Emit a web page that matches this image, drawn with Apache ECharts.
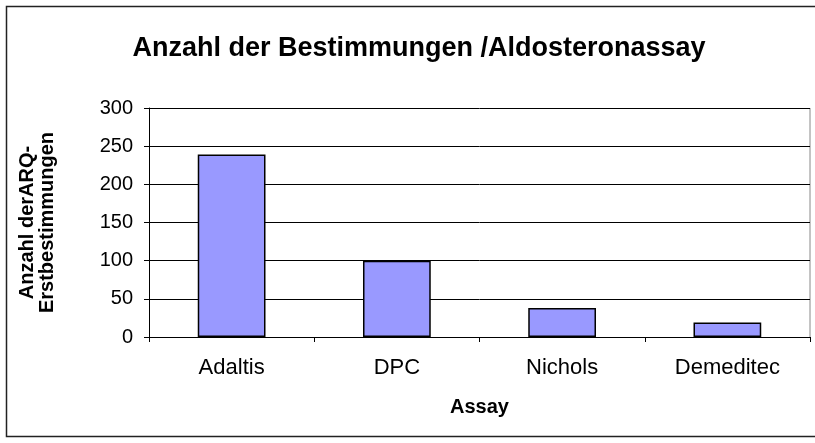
<!DOCTYPE html>
<html>
<head>
<meta charset="utf-8">
<script src="https://cdn.jsdelivr.net/npm/echarts@6/dist/echarts.min.js"></script>
<style>
  html, body { margin: 0; padding: 0; background: #fff; }
  #main { width: 815px; height: 443px; }
</style>
</head>
<body>
<div id="main"></div>
<script>
// data
const categories = ['Adaltis', 'DPC', 'Nichols', 'Demeditec'];
const counts = [239, 100, 38, 19];
const yTicks = [0, 50, 100, 150, 200, 250, 300];

const chart = echarts.init(document.getElementById('main'));

const option = {
  animation: false,
  textStyle: { fontFamily: 'Liberation Sans, Arial, sans-serif' },
  graphic: [
    {
      type: 'rect',
      shape: { x: 6.5, y: 6.5, width: 840, height: 430 },
      style: { fill: 'none', stroke: '#222', lineWidth: 1.5 }
    },
    {
      type: 'line',
      shape: { x1: 810, y1: 108, x2: 810, y2: 337 },
      style: { stroke: '#888', lineWidth: 1 }
    }
  ],
  title: {
    text: 'Anzahl der Bestimmungen /Aldosteronassay',
    left: 414,
    top: 30,
    textAlign: 'center',
    textStyle: { fontSize: 27, fontWeight: 'bold', color: '#000' }
  },
  grid: { left: 149, right: 5, top: 108, bottom: 106 },
  xAxis: {
    type: 'category',
    data: categories,
    name: 'Assay',
    nameLocation: 'middle',
    nameGap: 60,
    nameTextStyle: { fontSize: 20, fontWeight: 'bold', color: '#000' },
    axisLine: { lineStyle: { color: '#000', width: 1 } },
    axisTick: { show: true, alignWithLabel: false, length: 5, lineStyle: { color: '#000' } },
    axisLabel: { fontSize: 22, color: '#000', margin: 20 }
  },
  yAxis: {
    type: 'value',
    min: 0,
    max: 300,
    interval: 50,
    name: 'Anzahl derARQ-\nErstbestimmungen',
    nameLocation: 'middle',
    nameGap: 92,
    nameTextStyle: { fontSize: 20, fontWeight: 'bold', color: '#000', lineHeight: 20 },
    axisLine: { show: true, lineStyle: { color: '#000', width: 1 } },
    axisTick: { show: true, length: 5, inside: false, lineStyle: { color: '#000' } },
    axisLabel: {
      fontSize: 20, color: '#000', margin: 16,
      formatter: v => yTicks.includes(v) ? String(v) : ''
    },
    splitLine: { lineStyle: { color: '#000', width: 1 } }
  },
  series: [{
    type: 'bar',
    data: counts,
    barWidth: '41%',
    itemStyle: { color: '#9999FF', borderColor: '#000', borderWidth: 1.5 }
  }]
};

chart.setOption(option);
</script>
</body>
</html>
